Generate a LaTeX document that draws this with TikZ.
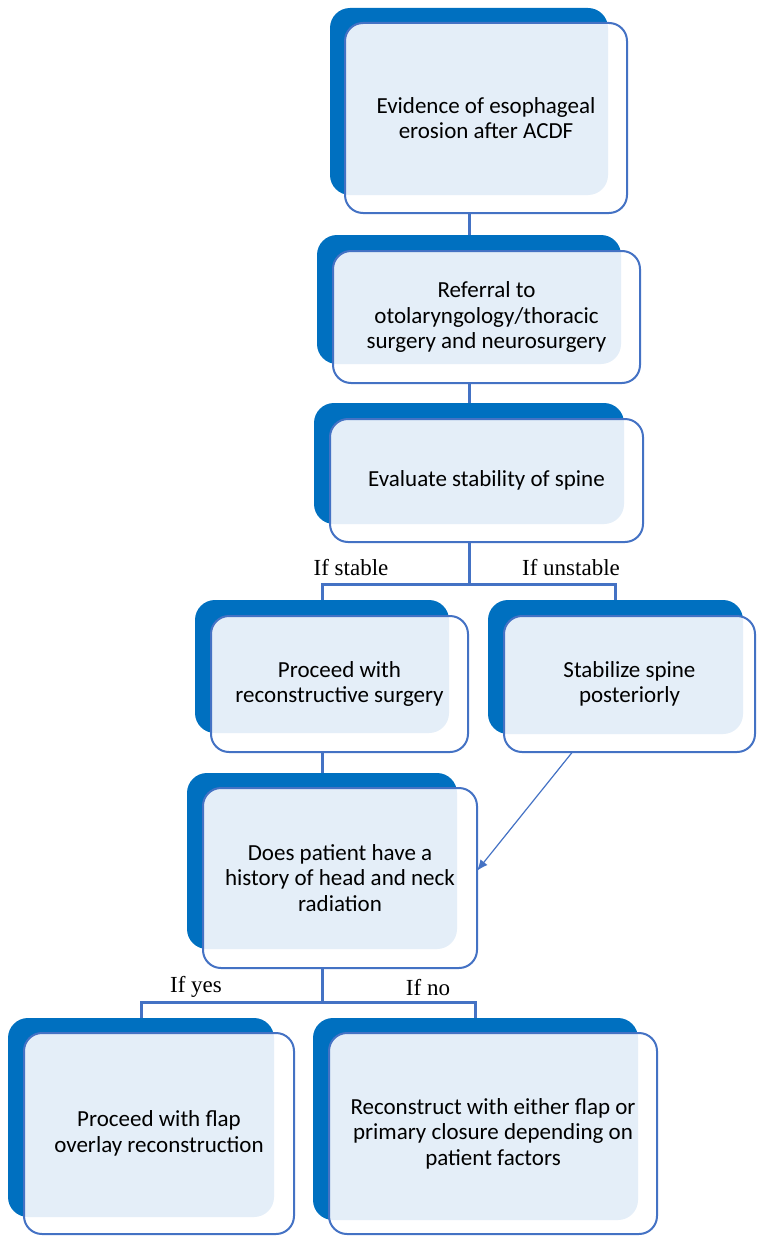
\documentclass[tikz,border=0pt]{standalone}
\usepackage{fontspec}
\setmainfont{Carlito}
\newfontfamily\labelfont{Liberation Serif}
\usetikzlibrary{fit,arrows.meta}
\definecolor{cardblue}{HTML}{0070C0}
\definecolor{cardline}{HTML}{4472C4}
\definecolor{cardlight}{HTML}{E4EEF8}
\pgfdeclarelayer{background}
\pgfsetlayers{background,main}
\tikzset{
	cardback/.style={fill=cardblue, rounded corners=20pt, inner sep=0pt, outer sep=0pt},
	cardedge/.style={draw=cardline, line width=2pt, rounded corners=18pt, inner sep=0pt, outer sep=0pt},
	cardtext/.style={align=center, inner sep=0pt, font=\fontsize{23}{25.5}\selectfont},
	link/.style={draw=cardline, line width=3pt},
	branchtext/.style={anchor=base, inner sep=0pt, font=\labelfont\fontsize{23}{27}\selectfont},
}
% back card, front card, text
\def\flowcard(#1)(#2)(#3)(#4)(#5)#6{%
	\node[cardback, fit={(#2)(#3)}] (#1b) {};
	\fill[white, rounded corners=18pt] (#4) rectangle (#5);
	\begin{scope}
		\clip[rounded corners=18pt] (#4) rectangle (#5);
		\fill[cardlight, rounded corners=20pt] (#2) rectangle (#3);
	\end{scope}
	\node[cardedge, fit={(#4)(#5)}] (#1) {};
	\node[cardtext] (#1t) at (#1.center) {#6};
}

\begin{document}
\begin{tikzpicture}[x=1pt, y=-1pt]
		%%%%% START %%%%%
		\useasboundingbox (0, 0) rectangle (756, 1236);
		
		\flowcard(evid)(330, 8)(608, 195)(345, 23)(627, 213){Evidence of esophageal\\erosion after ACDF}
		\flowcard(refer)(317, 235)(621, 364)(333, 251)(640, 383){Referral to\\otolaryngology/thoracic\\surgery and neurosurgery}
		\flowcard(evalu)(314, 403)(624, 524)(330, 419)(643, 542){Evaluate stability of spine}
		
		\flowcard(recon)(195, 600)(449, 733)(211, 616)(468, 752){Proceed with\\reconstructive surgery}
		\flowcard(stab)(488, 600)(743, 734)(504, 616)(755, 752){Stabilize spine\\posteriorly}
		
		\flowcard(hist)(187, 773)(457, 949)(203, 788)(477, 968){Does patient have a\\history of head and neck\\radiation}
		
		\flowcard(flap)(8, 1018)(274, 1217)(24, 1033)(294, 1234){Proceed with flap\\overlay reconstruction}
		\flowcard(recl)(313, 1018)(638, 1220)(329, 1033)(657, 1234){Reconstruct with either flap or\\primary closure depending on\\patient factors}
		
		\coordinate (fork1) at (469, 584);
		\coordinate (fork2) at (322, 1002);
		
		\begin{pgfonlayer}{background}
			\draw[link] (evidb.south) -- (referb.north);
			\draw[link] (referb.south) -- (evalub.north);
			\draw[link] (evalub.south) -- (fork1);
			\draw[link] (reconb.north) |- (fork1) -| (stabb.north);
			\draw[link] (reconb.south) -- (histb.north);
			\draw[link] (histb.south) -- (fork2);
			\draw[link] (flapb.north) |- (fork2) -| (reclb.north);
		\end{pgfonlayer}
		
		\draw[draw=cardline, line width=1.2pt, -{Latex[length=11pt, width=9pt]}] (stab.230) -- (hist.3);
		
		\node[branchtext] (ifstable) at (351, 575) {If stable};
		\node[branchtext] (ifunstable) at (571, 575) {If unstable};
		\node[branchtext] (ifyes) at (196, 992) {If yes};
		\node[branchtext] (ifno) at (428, 995) {If no};
		
		%%%%% END %%%%%
	\end{tikzpicture}
\end{document}
